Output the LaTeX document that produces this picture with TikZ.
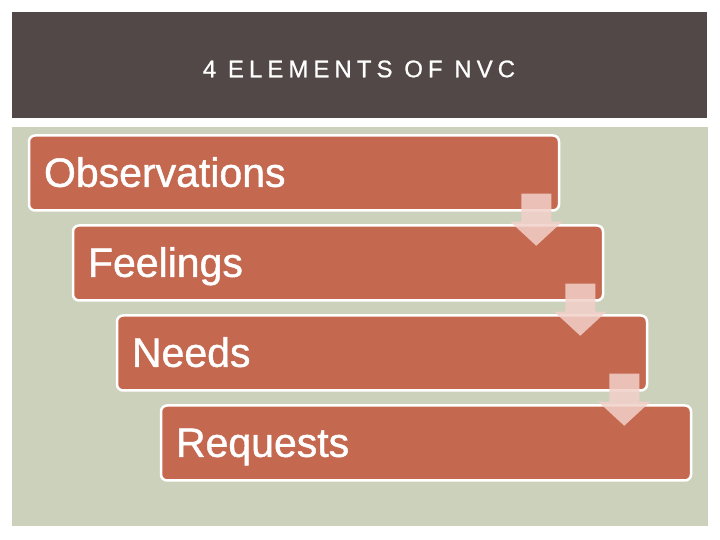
\documentclass[tikz,border=0pt]{standalone}
\usepackage{fontspec}
\setmainfont{Liberation Sans}[RawFeature={embolden=1}]
\newfontfamily\titlefont[LetterSpace=21,RawFeature={embolden=0.8}]{Liberation Sans}
\definecolor{headbrown}{RGB}{82,72,71}
\definecolor{sage}{RGB}{204,209,188}
\definecolor{clay}{RGB}{196,105,80}
\definecolor{blush}{RGB}{242,208,202}
\begin{document}
\begin{tikzpicture}
  [x=1pt,y=1pt,every node/.style={inner sep=0pt}]
  \tikzstyle{step box} = [draw=white,line width=2.5pt,rounded corners=6pt,fill=clay,
    minimum height=75pt,text width=500pt,inner xsep=15pt,align=left,
    text height=29.7pt,text depth=2pt,
    text=white,font=\fontsize{41}{44}\selectfont]
  \tikzstyle{down arrow} = [fill=blush,fill opacity=.85]
  \useasboundingbox[fill=white] (0,0) rectangle (720,540);
  % header band and panel
  \fill[headbrown] (12,422) rectangle (707,528);
  \fill[sage] (12,14) rectangle (708,413);
  \node[text=white,font=\titlefont\fontsize{24}{28}\selectfont] (title) at (359,471) {4 ELEMENTS OF NVC};
  % the four steps
  \node[step box] (obs) at (294,367) {Observations};
  \node[step box] (feel) at (338,277) {Feelings};
  \node[step box] (need) at (382,187) {Needs};
  \node[step box] (req) at (426,97) {Requests};
\foreach \stepname in {obs,feel,need}
   \fill[down arrow,shift={(\stepname.south east)}] (-39,18) -- (-9,18) -- (-9,-10) -- (2,-10)
     -- (-24,-34) -- (-50,-10) -- (-39,-10) -- cycle;
\end{tikzpicture}
\end{document}
